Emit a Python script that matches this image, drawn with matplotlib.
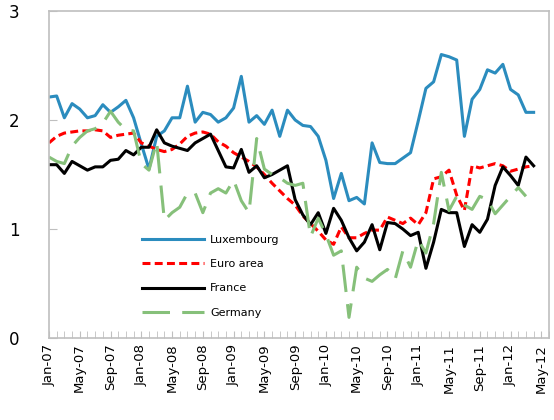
import matplotlib
matplotlib.use("Agg")
import matplotlib.pyplot as plt
import numpy as np

# monthly data, Jan-07 .. Apr-12
luxembourg = [2.21, 2.22, 2.02, 2.15, 2.10, 2.02, 2.04, 2.14, 2.07, 2.12,
              2.18, 2.02, 1.78, 1.55, 1.85, 1.90, 2.02, 2.02, 2.31, 1.98,
              2.07, 2.05, 1.98, 2.02, 2.11, 2.40, 1.98, 2.04, 1.96, 2.09,
              1.85, 2.09, 2.00, 1.95, 1.94, 1.85, 1.63, 1.28, 1.51, 1.26,
              1.29, 1.23, 1.79, 1.61, 1.60, 1.60, 1.65, 1.70, 1.99, 2.29,
              2.35, 2.60, 2.58, 2.55, 1.85, 2.19, 2.28, 2.46, 2.43, 2.51,
              2.28, 2.23, 2.07, 2.07]
euro_area = [1.79, 1.85, 1.88, 1.89, 1.90, 1.90, 1.91, 1.90, 1.84, 1.86,
             1.87, 1.88, 1.79, 1.76, 1.73, 1.71, 1.73, 1.78, 1.85, 1.88,
             1.89, 1.87, 1.80, 1.76, 1.70, 1.66, 1.62, 1.57, 1.50, 1.42,
             1.35, 1.28, 1.22, 1.12, 1.05, 0.98, 0.90, 0.86, 1.02, 0.92,
             0.92, 0.96, 0.99, 0.99, 1.11, 1.08, 1.05, 1.10, 1.04, 1.15,
             1.46, 1.48, 1.54, 1.31, 1.17, 1.58, 1.56, 1.58, 1.60, 1.58,
             1.53, 1.55, 1.57, 1.58]
france = [1.59, 1.59, 1.51, 1.62, 1.58, 1.54, 1.57, 1.57, 1.63, 1.64,
          1.72, 1.68, 1.75, 1.75, 1.91, 1.79, 1.76, 1.74, 1.72, 1.79,
          1.83, 1.87, 1.72, 1.57, 1.56, 1.73, 1.52, 1.58, 1.47, 1.50,
          1.54, 1.58, 1.27, 1.13, 1.04, 1.15, 0.96, 1.19, 1.08, 0.92,
          0.80, 0.88, 1.04, 0.81, 1.06, 1.05, 1.00, 0.94, 0.97, 0.64,
          0.88, 1.18, 1.15, 1.15, 0.84, 1.04, 0.97, 1.09, 1.40, 1.57,
          1.49, 1.40, 1.66, 1.58]
germany = [1.66, 1.62, 1.60, 1.76, 1.84, 1.90, 1.92, 1.97, 2.08, 1.98,
           1.91, 1.90, 1.60, 1.54, 1.80, 1.08, 1.15, 1.20, 1.33, 1.33,
           1.15, 1.33, 1.37, 1.33, 1.45, 1.26, 1.15, 1.83, 1.55, 1.50,
           1.47, 1.42, 1.40, 1.42, 0.93, 1.10, 0.95, 0.76, 0.80, 0.19,
           0.65, 0.55, 0.52, 0.58, 0.63, 0.54, 0.80, 0.65, 0.90, 0.78,
           1.05, 1.52, 1.17, 1.30, 1.22, 1.18, 1.30, 1.27, 1.14, 1.22,
           1.30, 1.38, 1.30, np.nan]

tick_labels = ["Jan-07", "May-07", "Sep-07", "Jan-08", "May-08", "Sep-08",
               "Jan-09", "May-09", "Sep-09", "Jan-10", "May-10", "Sep-10",
               "Jan-11", "May-11", "Sep-11", "Jan-12", "May-12"]

x = np.arange(len(luxembourg))

fig = plt.figure(figsize=(5.54, 4.20), dpi=100)
ax = fig.add_axes([0.0884, 0.195, 0.9026, 0.779])

lw = 2.2
ax.plot(x, luxembourg, color="#2B8CBE", linewidth=lw, label="Luxembourg")
ax.plot(x, euro_area, color="#FF0000", linewidth=lw, dashes=(2.6, 1.4),
        label="Euro area")
ax.plot(x, france, color="black", linewidth=lw, label="France")
ax.plot(x, germany, color="#86C07A", linewidth=lw, dashes=(9, 4),
        label="Germany")

ax.set_xlim(0, 65)
ax.set_ylim(0, 3)
ax.set_yticks([0, 1, 2, 3])
ax.set_xticks(np.arange(0, 65, 4))
ax.set_xticklabels(tick_labels, rotation=90, fontsize=9.5)
ax.set_xticks(np.arange(0, 66, 1), minor=True)

for s in ax.spines.values():
    s.set_color("#BFBFBF")
    s.set_linewidth(1.2)

ax.tick_params(axis="y", direction="in", length=6, color="#BFBFBF",
               labelsize=12, pad=21)
ax.tick_params(axis="x", which="both", direction="in", length=5,
               color="#BFBFBF", pad=4)

leg = ax.legend(loc="upper left", bbox_to_anchor=(0.178, 0.33),
                frameon=False, fontsize=8, handlelength=5.5,
                handletextpad=0.6, labelspacing=1.3, borderaxespad=0)

fig.savefig("out.png", dpi=100)
